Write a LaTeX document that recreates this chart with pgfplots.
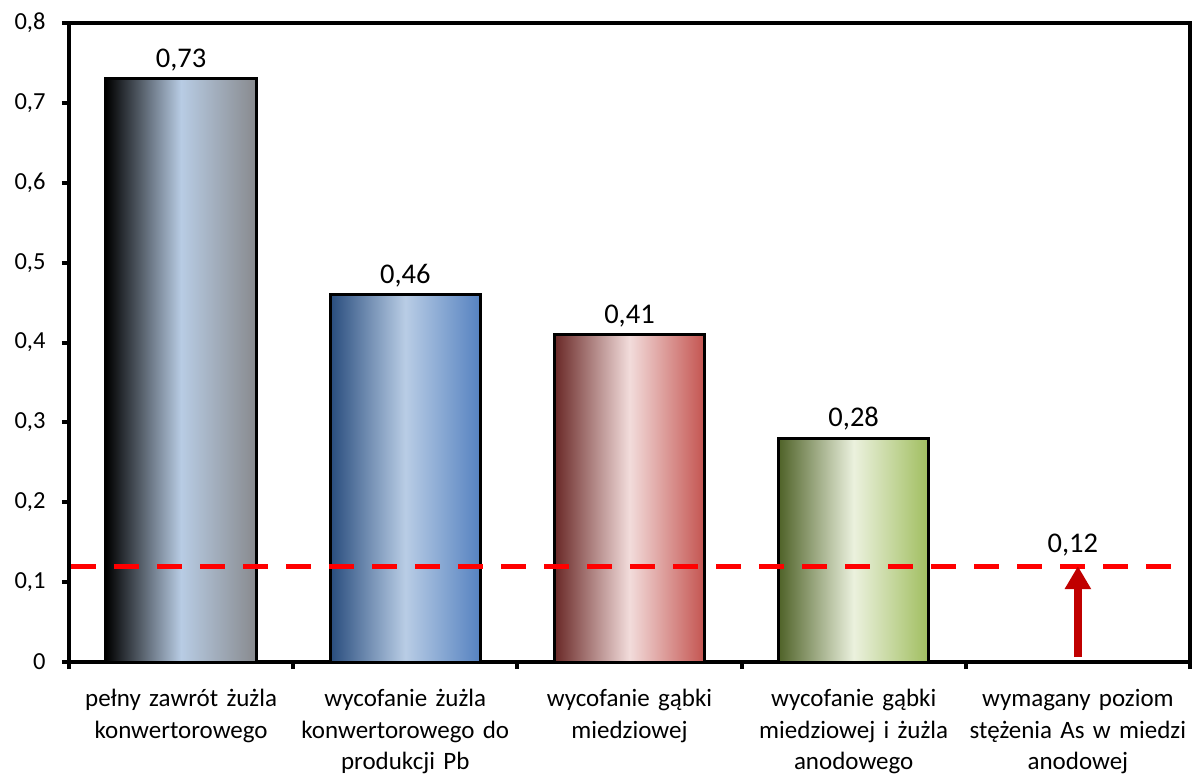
\documentclass[border=0pt]{standalone}
\usepackage{pgfplots}
\pgfplotsset{compat=1.18}
\usepackage{fontspec}
\setmainfont{Carlito}
\usetikzlibrary{arrows.meta}

\definecolor{limitred}{HTML}{FF0000}
\definecolor{arrowred}{HTML}{C00000}
\definecolor{g1L}{RGB}{0,0,0}
\definecolor{g1M}{RGB}{184,204,228}
\definecolor{g1R}{RGB}{136,138,142}
\definecolor{g2L}{RGB}{40,76,125}
\definecolor{g2M}{RGB}{185,205,229}
\definecolor{g2R}{RGB}{85,130,192}
\definecolor{g3L}{RGB}{105,40,38}
\definecolor{g3M}{RGB}{242,220,219}
\definecolor{g3R}{RGB}{196,84,80}
\definecolor{g4L}{RGB}{79,98,40}
\definecolor{g4M}{RGB}{235,241,222}
\definecolor{g4R}{RGB}{160,190,95}

\pgfplotsset{
  valbar/.style={draw=black, line width=3pt,
    nodes near coords,
    nodes near coords style={text=black, font=\fontsize{28.5}{32}\selectfont,
      /pgf/number format/.cd, use comma, fixed, fixed zerofill, precision=2,
      /tikz/.cd, yshift=3pt}},
}

\begin{document}
\begin{tikzpicture}[x=1pt,y=1pt]
\useasboundingbox (-69,-112) rectangle (1123,662);
\begin{axis}[
  at={(0,0)}, anchor=south west,
  scale only axis, width=1121pt, height=639pt,
  xmin=-0.5, xmax=4.5, ymin=0, ymax=0.8,
  axis line style={line width=4.5pt},
  every outer x axis line/.append style={line width=4.5pt},
  every outer y axis line/.append style={line width=4.5pt},
  ytick={0,0.1,...,0.8},
  tick align=outside, xtick pos=bottom, ytick pos=left,
  major tick length=7pt,
  tick style={line width=4pt, black},
  /pgf/number format/assume math mode=true,
  /pgf/number format/use comma, /pgf/number format/fixed, /pgf/number format/precision=1,
  yticklabel style={font=\fontsize{24.5}{28}\selectfont, xshift=-13pt},
  xtick={0,1,2,3,4},
  xticklabels={
    {pełny zawrót żużla\\konwertorowego},
    {wycofanie żużla\\konwertorowego do\\produkcji Pb},
    {wycofanie gąbki\\miedziowej},
    {wycofanie gąbki\\miedziowej i żużla\\anodowego},
    {wymagany poziom\\stężenia As w miedzi\\anodowej}},
  xticklabel style={font=\fontsize{25}{31.5}\selectfont, align=center, text width=224pt, yshift=-17pt},
  major x tick style={draw=none},
  extra x ticks={-0.5,0.5,1.5,2.5,3.5,4.5},
  extra x tick labels={},
  extra x tick style={major x tick style={draw=black, line width=4pt}},
  ybar, bar width=0.67, bar shift=0pt,
  clip=false,
]
\addplot[valbar, left color=g1L, right color=g1R, middle color=g1M]
  coordinates {(0,0.73)};
\addplot[valbar, left color=g2L, right color=g2R, middle color=g2M]
  coordinates {(1,0.46)};
\addplot[valbar, left color=g3L, right color=g3R, middle color=g3M]
  coordinates {(2,0.41)};
\addplot[valbar, left color=g4L, right color=g4R, middle color=g4M]
  coordinates {(3,0.28)};
% required level of As in anode copper
\addplot[sharp plot, no marks, limitred, line width=5pt, dash pattern=on 25pt off 18pt]
  coordinates {(-0.49,0.12) (4.45,0.12)};
\addplot[sharp plot, no marks, arrowred, line width=8pt,
  -{Triangle[width=25pt,length=23pt]}]
  coordinates {(4,0.006) (4,0.12)}
  node[pos=1, above, yshift=3pt, xshift=-5pt, text=black, font=\fontsize{28.5}{32}\selectfont] {0,12};
\end{axis}
\end{tikzpicture}
\end{document}
